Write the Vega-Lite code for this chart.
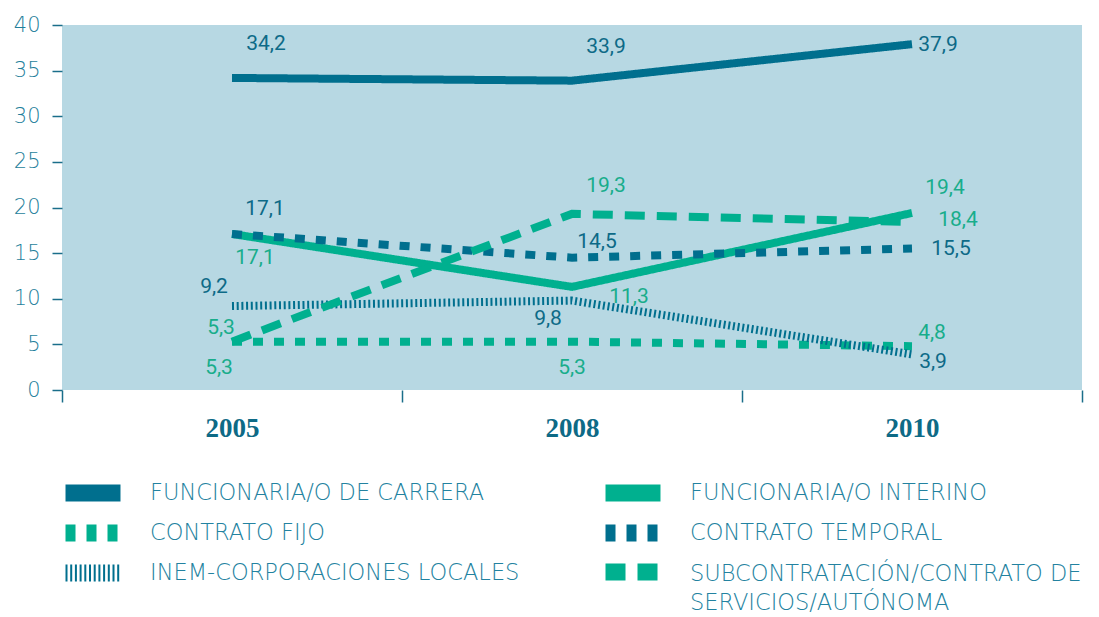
{
  "$schema": "https://vega.github.io/schema/vega-lite/v6.json",
  "width": 1020,
  "height": 365,
  "padding": {"left": 13, "top": 14, "right": 10, "bottom": 0},
  "config": {
    "locale": {"number": {"decimal": ",", "thousands": ".", "grouping": [3], "currency": ["", " €"]}},
    "view": {"fill": "#b7d8e3", "stroke": null},
    "font": "Roboto",
    "legend": {
      "title": null, "orient": "none", "padding": 0, "rowPadding": 10,
      "symbolType": "M-3,0H3", "symbolSize": 336, "symbolStrokeWidth": 17, "labelOffset": 39,
      "labelFont": "DejaVu Sans", "labelFontSize": 22.5, "labelFontWeight": 300, "labelColor": "#2382a0", "labelLimit": 600
    }
  },
  "datasets": {
    "main": [
      {"series": "FUNCIONARIA/O DE CARRERA", "year": "2005", "value": 34.2},
      {"series": "FUNCIONARIA/O DE CARRERA", "year": "2008", "value": 33.9},
      {"series": "FUNCIONARIA/O DE CARRERA", "year": "2010", "value": 37.9},
      {"series": "FUNCIONARIA/O INTERINO", "year": "2005", "value": 17.1},
      {"series": "FUNCIONARIA/O INTERINO", "year": "2008", "value": 11.3},
      {"series": "FUNCIONARIA/O INTERINO", "year": "2010", "value": 19.4},
      {"series": "CONTRATO FIJO", "year": "2005", "value": 5.3},
      {"series": "CONTRATO FIJO", "year": "2008", "value": 5.3},
      {"series": "CONTRATO FIJO", "year": "2010", "value": 4.8},
      {"series": "CONTRATO TEMPORAL", "year": "2005", "value": 17.1},
      {"series": "CONTRATO TEMPORAL", "year": "2008", "value": 14.5},
      {"series": "CONTRATO TEMPORAL", "year": "2010", "value": 15.5},
      {"series": "INEM-CORPORACIONES LOCALES", "year": "2005", "value": 9.2},
      {"series": "INEM-CORPORACIONES LOCALES", "year": "2008", "value": 9.8},
      {"series": "INEM-CORPORACIONES LOCALES", "year": "2010", "value": 3.9},
      {"series": "SUBCONTRATACIÓN/CONTRATO DE SERVICIOS/AUTÓNOMA", "year": "2005", "value": 5.3},
      {"series": "SUBCONTRATACIÓN/CONTRATO DE SERVICIOS/AUTÓNOMA", "year": "2008", "value": 19.3},
      {"series": "SUBCONTRATACIÓN/CONTRATO DE SERVICIOS/AUTÓNOMA", "year": "2010", "value": 18.4}
    ]
  },
  "data": {"name": "main"},
  "encoding": {
    "x": {
      "field": "year", "type": "ordinal",
      "scale": {"type": "band", "paddingInner": 0, "paddingOuter": 0},
      "axis": {
        "title": null, "domain": false, "tickBand": "extent", "tickSize": 12, "tickColor": "#1a6e8a", "tickWidth": 1.5,
        "labelFont": "Liberation Serif", "labelFontWeight": "bold", "labelFontSize": 27, "labelColor": "#0e6a86",
        "labelPadding": 13, "labelAngle": 0
      }
    },
    "y": {
      "field": "value", "type": "quantitative",
      "scale": {"domain": [0, 40], "nice": false},
      "axis": {
        "title": null, "domain": false, "grid": false, "values": [0, 5, 10, 15, 20, 25, 30, 35, 40],
        "tickSize": 10, "tickColor": "#1a6e8a", "tickWidth": 1.5,
        "labelFont": "DejaVu Sans", "labelFontSize": 21, "labelColor": "#1f7f9c", "labelFontWeight": 300, "labelPadding": 12
      }
    }
  },
  "resolve": {"scale": {"color": "independent", "strokeDash": "independent"}, "legend": {"color": "independent", "strokeDash": "independent"}},
  "layer": [
    {
      "transform": [{"filter": {"field": "series", "oneOf": ["FUNCIONARIA/O DE CARRERA", "CONTRATO FIJO", "INEM-CORPORACIONES LOCALES"]}}],
      "mark": {"type": "line", "strokeWidth": 8, "strokeCap": "butt", "strokeJoin": "miter"},
      "encoding": {
        "color": {
          "field": "series", "type": "nominal",
          "scale": {"domain": ["FUNCIONARIA/O DE CARRERA", "CONTRATO FIJO", "INEM-CORPORACIONES LOCALES"], "range": ["#006f8e", "#00b08f", "#006f8e"]},
          "legend": {"legendX": 13, "legendY": 450, "encode": {"symbols": {"update": {"strokeJoin": {"value": "bevel"}}}}}
        },
        "strokeDash": {
          "field": "series", "type": "nominal",
          "scale": {"domain": ["FUNCIONARIA/O DE CARRERA", "CONTRATO FIJO", "INEM-CORPORACIONES LOCALES"], "range": [[1, 0], [10, 11], [2, 2.7]]},
          "legend": {"legendX": 13, "legendY": 450, "encode": {"symbols": {"update": {"strokeJoin": {"value": "bevel"}}}}}
        }
      }
    },
    {
      "transform": [{"filter": {"field": "series", "oneOf": ["FUNCIONARIA/O INTERINO", "CONTRATO TEMPORAL"]}}],
      "mark": {"type": "line", "strokeWidth": 8, "strokeCap": "butt", "strokeJoin": "miter"},
      "encoding": {
        "color": {
          "field": "series", "type": "nominal",
          "scale": {"domain": ["FUNCIONARIA/O INTERINO", "CONTRATO TEMPORAL"], "range": ["#00b08f", "#006f8e"]},
          "legend": {"legendX": 553, "legendY": 450, "encode": {"symbols": {"update": {"strokeJoin": {"value": "bevel"}}}}}
        },
        "strokeDash": {
          "field": "series", "type": "nominal",
          "scale": {"domain": ["FUNCIONARIA/O INTERINO", "CONTRATO TEMPORAL"], "range": [[1, 0], [10, 11]]},
          "legend": {"legendX": 553, "legendY": 450, "encode": {"symbols": {"update": {"strokeJoin": {"value": "bevel"}}}}}
        }
      }
    },
    {
      "transform": [{"filter": {"field": "series", "oneOf": ["SUBCONTRATACIÓN/CONTRATO DE SERVICIOS/AUTÓNOMA"]}}],
      "mark": {"type": "line", "strokeWidth": 8, "strokeCap": "butt", "strokeJoin": "miter"},
      "encoding": {
        "color": {
          "field": "series", "type": "nominal",
          "scale": {"domain": ["SUBCONTRATACIÓN/CONTRATO DE SERVICIOS/AUTÓNOMA"], "range": ["#00b08f"]},
          "legend": {
            "legendX": 553, "legendY": 529, "labelBaseline": "top",
            "labelExpr": "['SUBCONTRATACIÓN/CONTRATO DE', 'SERVICIOS/AUTÓNOMA']",
            "encode": {"labels": {"update": {"dy": {"value": -9}, "lineHeight": {"value": 29}}}, "symbols": {"update": {"strokeJoin": {"value": "bevel"}}}}
          }
        },
        "strokeDash": {
          "field": "series", "type": "nominal",
          "scale": {"domain": ["SUBCONTRATACIÓN/CONTRATO DE SERVICIOS/AUTÓNOMA"], "range": [[20, 12]]},
          "legend": {
            "legendX": 553, "legendY": 529, "labelBaseline": "top",
            "labelExpr": "['SUBCONTRATACIÓN/CONTRATO DE', 'SERVICIOS/AUTÓNOMA']",
            "encode": {"labels": {"update": {"dy": {"value": -9}, "lineHeight": {"value": 29}}}, "symbols": {"update": {"strokeJoin": {"value": "bevel"}}}}
          }
        }
      }
    },
    {
      "encoding": {"text": {"field": "value", "type": "quantitative", "format": ".1f"}},
      "layer": [
        {"transform": [{"filter": "datum.series == 'FUNCIONARIA/O DE CARRERA' && datum.year != '2010'"}], "mark": {"type": "text", "fontSize": 21, "color": "#0d6a87", "dx": 34, "dy": -34}},
        {"transform": [{"filter": "datum.series == 'FUNCIONARIA/O DE CARRERA' && datum.year == '2010'"}], "mark": {"type": "text", "fontSize": 21, "color": "#0d6a87", "dx": 26, "dy": 1}},
        {"transform": [{"filter": "datum.series == 'FUNCIONARIA/O INTERINO' && datum.year == '2005'"}], "mark": {"type": "text", "fontSize": 21, "color": "#18ad8b", "dx": 23, "dy": 24}},
        {"transform": [{"filter": "datum.series == 'FUNCIONARIA/O INTERINO' && datum.year == '2008'"}], "mark": {"type": "text", "fontSize": 21, "color": "#18ad8b", "dx": 57, "dy": 10}},
        {"transform": [{"filter": "datum.series == 'FUNCIONARIA/O INTERINO' && datum.year == '2010'"}], "mark": {"type": "text", "fontSize": 21, "color": "#18ad8b", "dx": 33, "dy": -25}},
        {"transform": [{"filter": "datum.series == 'CONTRATO TEMPORAL' && datum.year == '2005'"}], "mark": {"type": "text", "fontSize": 21, "color": "#0d6a87", "dx": 33, "dy": -25}},
        {"transform": [{"filter": "datum.series == 'CONTRATO TEMPORAL' && datum.year == '2008'"}], "mark": {"type": "text", "fontSize": 21, "color": "#0d6a87", "dx": 25, "dy": -16}},
        {"transform": [{"filter": "datum.series == 'CONTRATO TEMPORAL' && datum.year == '2010'"}], "mark": {"type": "text", "fontSize": 21, "color": "#0d6a87", "dx": 39, "dy": 0}},
        {"transform": [{"filter": "datum.series == 'INEM-CORPORACIONES LOCALES' && datum.year == '2005'"}], "mark": {"type": "text", "fontSize": 21, "color": "#0d6a87", "dx": -18, "dy": -19}},
        {"transform": [{"filter": "datum.series == 'INEM-CORPORACIONES LOCALES' && datum.year == '2008'"}], "mark": {"type": "text", "fontSize": 21, "color": "#0d6a87", "dx": -24, "dy": 18}},
        {"transform": [{"filter": "datum.series == 'INEM-CORPORACIONES LOCALES' && datum.year == '2010'"}], "mark": {"type": "text", "fontSize": 21, "color": "#0d6a87", "dx": 21, "dy": 8}},
        {"transform": [{"filter": "datum.series == 'SUBCONTRATACIÓN/CONTRATO DE SERVICIOS/AUTÓNOMA' && datum.year == '2005'"}], "mark": {"type": "text", "fontSize": 21, "color": "#18ad8b", "dx": -11, "dy": -14}},
        {"transform": [{"filter": "datum.series == 'SUBCONTRATACIÓN/CONTRATO DE SERVICIOS/AUTÓNOMA' && datum.year == '2008'"}], "mark": {"type": "text", "fontSize": 21, "color": "#18ad8b", "dx": 34, "dy": -28}},
        {"transform": [{"filter": "datum.series == 'SUBCONTRATACIÓN/CONTRATO DE SERVICIOS/AUTÓNOMA' && datum.year == '2010'"}], "mark": {"type": "text", "fontSize": 21, "color": "#18ad8b", "dx": 46, "dy": -2}},
        {"transform": [{"filter": "datum.series == 'CONTRATO FIJO' && datum.year == '2005'"}], "mark": {"type": "text", "fontSize": 21, "color": "#18ad8b", "dx": -13, "dy": 26}},
        {"transform": [{"filter": "datum.series == 'CONTRATO FIJO' && datum.year == '2008'"}], "mark": {"type": "text", "fontSize": 21, "color": "#18ad8b", "dx": 0, "dy": 26}},
        {"transform": [{"filter": "datum.series == 'CONTRATO FIJO' && datum.year == '2010'"}], "mark": {"type": "text", "fontSize": 21, "color": "#18ad8b", "dx": 20, "dy": -13}}
      ]
    }
  ]
}
